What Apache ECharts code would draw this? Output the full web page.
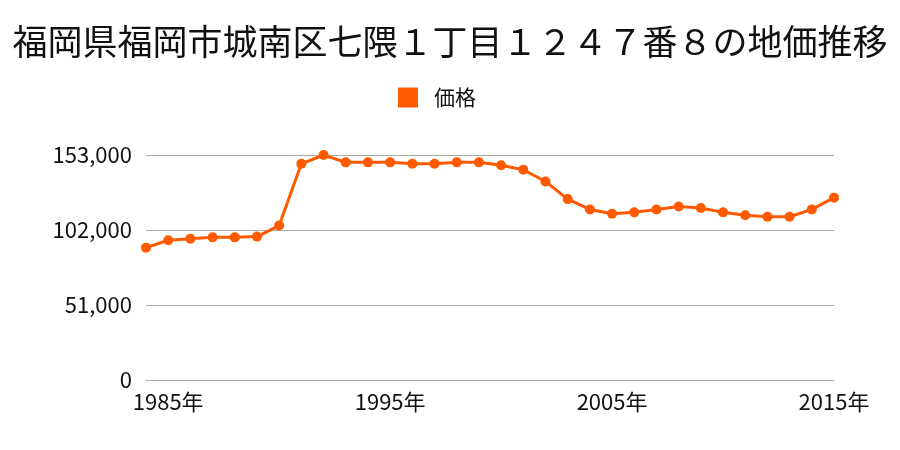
<!DOCTYPE html>
<html><head><meta charset="utf-8">
<script src="https://cdn.jsdelivr.net/npm/echarts@6/dist/echarts.min.js"></script>
<style>html,body{margin:0;padding:0;background:#fff}#c{width:900px;height:450px}</style>
</head><body><div id="c"></div>
<script>
const titleText = '福岡県福岡市城南区七隈１丁目１２４７番８の地価推移';
const seriesName = '価格';
const years = [1984,1985,1986,1987,1988,1989,1990,1991,1992,1993,1994,1995,1996,1997,1998,1999,2000,2001,2002,2003,2004,2005,2006,2007,2008,2009,2010,2011,2012,2013,2014,2015];
const prices = [90000,95000,96000,97000,97000,97500,105000,147000,153000,148000,148000,148000,147000,147000,148000,148000,146000,143000,135000,123000,116000,113000,114000,116000,118000,117000,114000,112000,111000,111000,116000,124000];
const shownYears = [1985,1995,2005,2015];
const yMax = 153000, yStep = 51000;
const font = '"Noto Sans CJK JP", "Noto Sans", sans-serif';
const chart = echarts.init(document.getElementById('c'));
chart.setOption({
  animation: false,
  backgroundColor: '#fff',
  title: { text: titleText, left: 'center', top: 19, textStyle: { fontFamily: font, fontSize: 35, fontWeight: 'normal', color: '#111' } },
  legend: { data: [seriesName], top: 82, left: 393, icon: 'rect', itemWidth: 20, itemHeight: 20,
    textStyle: { fontFamily: font, fontSize: 21, color: '#111', padding: [0, 0, 0, 11] } },
  grid: { left: 146, right: 66, top: 155, bottom: 70, containLabel: false },
  xAxis: { type: 'category', boundaryGap: false, data: years.map(String),
    axisLine: { lineStyle: { color: '#aaa', width: 1 } }, axisTick: { show: false },
    axisLabel: { interval: (i, v) => shownYears.includes(+v), formatter: v => v + '年', fontFamily: font, fontSize: 22, color: '#111', margin: 11 },
    splitLine: { show: false } },
  yAxis: { type: 'value', min: 0, max: yMax, interval: yStep,
    axisLine: { show: false }, axisTick: { show: false },
    axisLabel: { formatter: v => v.toLocaleString('en-US'), fontFamily: font, fontSize: 22, color: '#111', margin: 14 },
    splitLine: { lineStyle: { color: '#aaa', width: 1 } } },
  series: [{ name: seriesName, type: 'line', data: prices, color: '#ff5a00',
    lineStyle: { width: 3 }, symbol: 'circle', symbolSize: 10, itemStyle: { color: '#ff5a00' } }]
});
</script></body></html>
